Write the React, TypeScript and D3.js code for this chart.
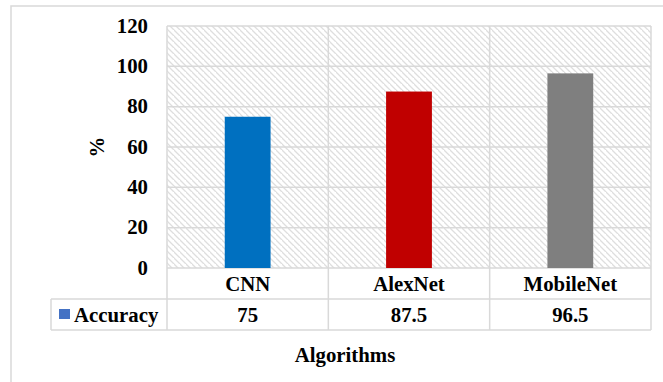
import React from "react";
import * as d3 from "d3";

const categories = ["CNN", "AlexNet", "MobileNet"];
const accuracy = [75, 87.5, 96.5];
const barColors = ["#0070C0", "#C00000", "#7F7F7F"];
const yTicks = [0, 20, 40, 60, 80, 100, 120];
const seriesName = "Accuracy";
const valueLabels = ["75", "87.5", "96.5"];

const W = 663;
const H = 382;
const GRID = "#D9D9D9";

function T(props: { x?: number; y?: number; anchor?: string; transform?: string; children: React.ReactNode }) {
  return (
    <text
      x={props.x}
      y={props.y}
      transform={props.transform}
      textAnchor={props.anchor || "start"}
      fontFamily="Liberation Serif"
      fontWeight="bold"
      fontSize="20.8px"
      style={{ fontFamily: `"Liberation Serif"`, fontWeight: 700, fontSize: "20.8px" }}
      fill="#000"
    >
      {props.children}
    </text>
  );
}

export default function App() {
  const plotLeft = 167;
  const plotRight = 651;
  const plotTop = 26;
  const plotBottom = 268;
  const row1Bottom = 299;
  const row2Bottom = 330;
  const legendLeft = 51;

  const x = d3.scaleBand<string>().domain(categories).range([plotLeft, plotRight]).paddingInner(0).paddingOuter(0);
  const y = d3.scaleLinear().domain([0, 120]).range([plotBottom, plotTop]);
  const bw = x.bandwidth();
  const barW = bw * 0.284;
  const boundaries = [...categories.map((c) => x(c) as number), plotRight];

  return (
    <svg width={W} height={H} style={{ position: "absolute", left: 0, top: 0 }}>
      <defs>
        <pattern id="hatch" patternUnits="userSpaceOnUse" width={6} height={6}>
          <rect width={6} height={6} fill="#fff" />
          <path d="M-1,-1 L7,7 M-4,2 L2,8 M4,-4 L10,2" stroke="#DEDEDE" strokeWidth={1.3} />
        </pattern>
      </defs>
      <rect x={11} y={6} width={W + 20} height={H + 20} fill="#fff" stroke={GRID} strokeWidth={1.5} />
      <rect x={plotLeft} y={plotTop} width={plotRight - plotLeft} height={plotBottom - plotTop} fill="url(#hatch)" />
      {yTicks.map((t) => (
        <line key={t} x1={plotLeft} x2={plotRight} y1={y(t)} y2={y(t)} stroke={GRID} strokeWidth={1.5} />
      ))}
      {boundaries.map((b, i) => (
        <line key={i} x1={b} x2={b} y1={plotTop} y2={row2Bottom} stroke={GRID} strokeWidth={1.5} />
      ))}
      <line x1={legendLeft} x2={plotRight} y1={row1Bottom} y2={row1Bottom} stroke={GRID} strokeWidth={1.5} />
      <line x1={legendLeft} x2={plotRight} y1={row2Bottom} y2={row2Bottom} stroke={GRID} strokeWidth={1.5} />
      <line x1={legendLeft} x2={legendLeft} y1={row1Bottom} y2={row2Bottom} stroke={GRID} strokeWidth={1.5} />
      {categories.map((c, i) => (
        <rect
          key={c}
          x={(x(c) as number) + bw / 2 - barW / 2}
          y={y(accuracy[i])}
          width={barW}
          height={plotBottom - y(accuracy[i])}
          fill={barColors[i]}
        />
      ))}
      {yTicks.map((t) => (
        <T key={t} x={148} y={y(t) + 6.5} anchor="end">
          {String(t)}
        </T>
      ))}
      {categories.map((c) => (
        <T key={c} x={(x(c) as number) + bw / 2} y={290.5} anchor="middle">
          {c}
        </T>
      ))}
      {categories.map((c, i) => (
        <T key={c} x={(x(c) as number) + bw / 2} y={321.5} anchor="middle">
          {valueLabels[i]}
        </T>
      ))}
      <T x={74} y={321.5}>{seriesName}</T>
      <T transform="translate(104,147) rotate(-90)" anchor="middle">%</T>
      <T x={345} y={361.5} anchor="middle">Algorithms</T>
      <rect x={59} y={309} width={11} height={10} fill="#4472C4" />
    </svg>
  );
}
